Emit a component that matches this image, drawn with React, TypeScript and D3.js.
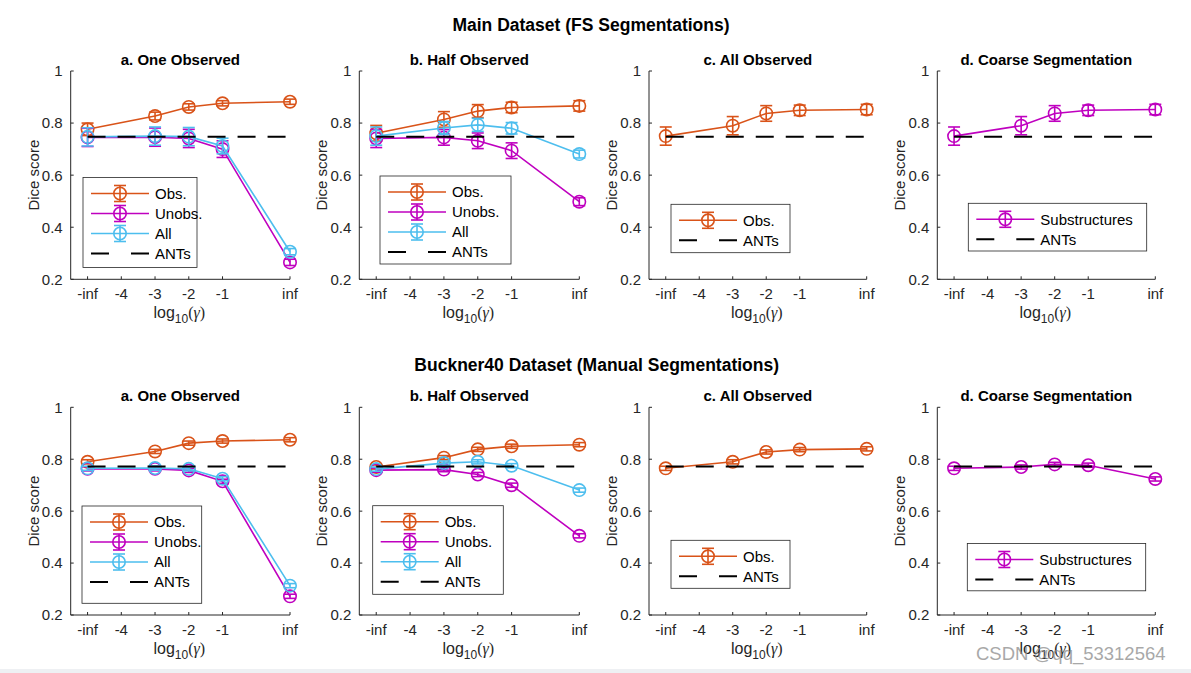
import React from "react";
import * as d3 from "d3";

// ---------- shared axes ----------
const xPositions = [-5, -3, -2, -1, 1];
const xTickValues = [-5, -4, -3, -2, -1, 1];
const xTickLabels = ["-inf", "-4", "-3", "-2", "-1", "inf"];
const yTickValues = [0.2, 0.4, 0.6, 0.8, 1];
const yTickLabels = ["0.2", "0.4", "0.6", "0.8", "1"];

const rowTitles = ["Main Dataset (FS Segmentations)", "Buckner40 Dataset (Manual Segmentations)"];
const panelTitles = ["a. One Observed", "b. Half Observed", "c. All Observed", "d. Coarse Segmentation"];

// ---------- Main dataset (FS segmentations) ----------
const mainOneObs = [0.776, 0.827, 0.862, 0.876, 0.882];
const mainOneObsErr = [0.024, 0.015, 0.012, 0.01, 0.01];
const mainOneUnobs = [0.745, 0.746, 0.741, 0.700, 0.265];
const mainOneUnobsErr = [0.035, 0.035, 0.035, 0.032, 0.012];
const mainOneAll = [0.747, 0.750, 0.748, 0.712, 0.306];
const mainOneAllErr = [0.035, 0.035, 0.035, 0.03, 0.012];

const mainHalfObs = [0.761, 0.814, 0.846, 0.860, 0.866];
const mainHalfObsErr = [0.03, 0.03, 0.025, 0.02, 0.02];
const mainHalfUnobs = [0.741, 0.745, 0.732, 0.694, 0.498];
const mainHalfUnobsErr = [0.035, 0.03, 0.03, 0.03, 0.015];
const mainHalfAll = [0.750, 0.781, 0.793, 0.780, 0.681];
const mainHalfAllErr = [0.035, 0.025, 0.025, 0.022, 0.015];

const mainAllObs = [0.750, 0.790, 0.837, 0.849, 0.852];
const mainAllObsErr = [0.035, 0.035, 0.03, 0.02, 0.02];

const mainCoarseSub = [0.750, 0.790, 0.837, 0.849, 0.852];
const mainCoarseSubErr = [0.035, 0.035, 0.03, 0.02, 0.02];

const mainAnts = 0.747;

// ---------- Buckner40 dataset (manual segmentations) ----------
const bucOneObs = [0.790, 0.830, 0.862, 0.870, 0.875];
const bucOneObsErr = [0.008, 0.008, 0.008, 0.008, 0.008];
const bucOneUnobs = [0.763, 0.763, 0.757, 0.715, 0.272];
const bucOneUnobsErr = [0.008, 0.008, 0.008, 0.008, 0.008];
const bucOneAll = [0.765, 0.766, 0.763, 0.725, 0.313];
const bucOneAllErr = [0.008, 0.008, 0.008, 0.008, 0.008];

const bucHalfObs = [0.770, 0.806, 0.838, 0.850, 0.856];
const bucHalfObsErr = [0.008, 0.008, 0.008, 0.008, 0.008];
const bucHalfUnobs = [0.758, 0.760, 0.741, 0.700, 0.505];
const bucHalfUnobsErr = [0.008, 0.008, 0.008, 0.008, 0.008];
const bucHalfAll = [0.762, 0.785, 0.790, 0.775, 0.681];
const bucHalfAllErr = [0.008, 0.008, 0.008, 0.008, 0.008];

const bucAllObs = [0.765, 0.790, 0.828, 0.837, 0.840];
const bucAllObsErr = [0.008, 0.008, 0.008, 0.008, 0.008];

const bucCoarseSub = [0.765, 0.770, 0.780, 0.777, 0.724];
const bucCoarseSubErr = [0.008, 0.008, 0.008, 0.008, 0.008];

const bucAnts = 0.772;

// ---------- styles ----------
const COLORS = { obs: "#D95319", unobs: "#BF00BF", all: "#4DBEEE", ants: "#000000" };
const FONT = "'Liberation Sans', Arial, Helvetica, sans-serif";
const AXIS = "#262626";

type Series = { name: string; color: string; values: number[]; errors: number[] };
type PanelData = { series: Series[]; ants: number };

const panels: PanelData[][] = [
  [
    {
      series: [
        { name: "Obs.", color: COLORS.obs, values: mainOneObs, errors: mainOneObsErr },
        { name: "Unobs.", color: COLORS.unobs, values: mainOneUnobs, errors: mainOneUnobsErr },
        { name: "All", color: COLORS.all, values: mainOneAll, errors: mainOneAllErr },
      ],
      ants: mainAnts,
    },
    {
      series: [
        { name: "Obs.", color: COLORS.obs, values: mainHalfObs, errors: mainHalfObsErr },
        { name: "Unobs.", color: COLORS.unobs, values: mainHalfUnobs, errors: mainHalfUnobsErr },
        { name: "All", color: COLORS.all, values: mainHalfAll, errors: mainHalfAllErr },
      ],
      ants: mainAnts,
    },
    {
      series: [{ name: "Obs.", color: COLORS.obs, values: mainAllObs, errors: mainAllObsErr }],
      ants: mainAnts,
    },
    {
      series: [{ name: "Substructures", color: COLORS.unobs, values: mainCoarseSub, errors: mainCoarseSubErr }],
      ants: mainAnts,
    },
  ],
  [
    {
      series: [
        { name: "Obs.", color: COLORS.obs, values: bucOneObs, errors: bucOneObsErr },
        { name: "Unobs.", color: COLORS.unobs, values: bucOneUnobs, errors: bucOneUnobsErr },
        { name: "All", color: COLORS.all, values: bucOneAll, errors: bucOneAllErr },
      ],
      ants: bucAnts,
    },
    {
      series: [
        { name: "Obs.", color: COLORS.obs, values: bucHalfObs, errors: bucHalfObsErr },
        { name: "Unobs.", color: COLORS.unobs, values: bucHalfUnobs, errors: bucHalfUnobsErr },
        { name: "All", color: COLORS.all, values: bucHalfAll, errors: bucHalfAllErr },
      ],
      ants: bucAnts,
    },
    {
      series: [{ name: "Obs.", color: COLORS.obs, values: bucAllObs, errors: bucAllObsErr }],
      ants: bucAnts,
    },
    {
      series: [{ name: "Substructures", color: COLORS.unobs, values: bucCoarseSub, errors: bucCoarseSubErr }],
      ants: bucAnts,
    },
  ],
];

// ---------- layout ----------
const colLayout = [
  { left: 70.7, right: 290 },
  { left: 359.3, right: 579.3 },
  { left: 649, right: 866.7 },
  { left: 937.3, right: 1155.3 },
];
const rowLayout = [
  { top: 71, bottom: 279.3, titleX: 591, titleY: 30.5, panelTitleY: 65 },
  { top: 407.3, bottom: 615, titleX: 596.7, titleY: 371, panelTitleY: 401 },
];
const legendLayout = [
  [
    { x: 83, y: 177.5, w: 114, h: 90 },
    { x: 380, y: 176, w: 131, h: 88 },
    { x: 671, y: 204.3, w: 119, h: 48.4 },
    { x: 968.3, y: 203.3, w: 178.4, h: 47.7 },
  ],
  [
    { x: 82, y: 506, w: 119.7, h: 97.3 },
    { x: 372.7, y: 505.7, w: 130.6, h: 88.6 },
    { x: 671, y: 540.3, w: 119, h: 48 },
    { x: 967.3, y: 543.5, w: 178.4, h: 47.3 },
  ],
];

const MARKER_R = 6.2;
const CAP = 6;
const LW = 1.6;

function ErrorMark({ cx, cy, y0, y1, color }: { cx: number; cy: number; y0: number; y1: number; color: string }) {
  return (
    <g stroke={color} strokeWidth={LW} fill="none">
      <line x1={cx} x2={cx} y1={y0} y2={y1} />
      <line x1={cx - CAP} x2={cx + CAP} y1={y0} y2={y0} />
      <line x1={cx - CAP} x2={cx + CAP} y1={y1} y2={y1} />
      <circle cx={cx} cy={cy} r={MARKER_R} />
    </g>
  );
}

function Panel({ row, col }: { row: number; col: number }) {
  const data = panels[row][col];
  const { left, right } = colLayout[col];
  const { top, bottom, panelTitleY } = rowLayout[row];
  const lg = legendLayout[row][col];

  const x = d3.scaleLinear().domain([-5.5, 1]).range([left, right]);
  const y = d3.scaleLinear().domain([0.2, 1]).range([bottom, top]);
  const line = d3
    .line<number>()
    .x((_, i) => x(xPositions[i]))
    .y((d) => y(d));

  const cx = (left + right) / 2;
  const cy = (top + bottom) / 2;

  const legendItems = [
    ...data.series.map((s) => ({ name: s.name, color: s.color, dashed: false })),
    { name: "ANTs", color: COLORS.ants, dashed: true },
  ];

  return (
    <g>
      {/* panel title */}
      <text x={cx} y={panelTitleY} textAnchor="middle" fontFamily={FONT} fontWeight="bold" fontSize={15} fill="#000">
        {panelTitles[col]}
      </text>

      {/* axes */}
      <line x1={left} x2={left} y1={top} y2={bottom} stroke={AXIS} strokeWidth={1} />
      <line x1={left} x2={right} y1={bottom} y2={bottom} stroke={AXIS} strokeWidth={1} />
      {yTickValues.map((v, i) => (
        <g key={"y" + i}>
          <line x1={left} x2={left + 3} y1={y(v)} y2={y(v)} stroke={AXIS} strokeWidth={1} />
          <text
            x={left - 8}
            y={y(v)}
            dy="0.36em"
            textAnchor="end"
            fontFamily={FONT}
            fontSize={15}
            fill={AXIS}
          >
            {yTickLabels[i]}
          </text>
        </g>
      ))}
      {xTickValues.map((v, i) => (
        <g key={"x" + i}>
          <line x1={x(v)} x2={x(v)} y1={bottom} y2={bottom - 3} stroke={AXIS} strokeWidth={1} />
          <text x={x(v)} y={bottom + 20} textAnchor="middle" fontFamily={FONT} fontSize={15} fill={AXIS}>
            {xTickLabels[i]}
          </text>
        </g>
      ))}

      {/* y label */}
      <text
        transform={`translate(${left - 32},${cy}) rotate(-90)`}
        textAnchor="middle"
        fontFamily={FONT}
        fontSize={15}
        fill={AXIS}
      >
        Dice score
      </text>
      {/* x label */}
      <text x={cx - 1} y={bottom + 39} textAnchor="middle" fontFamily={FONT} fontSize={16} fill={AXIS}>
        log
        <tspan fontSize={12} dy={5}>
          10
        </tspan>
        <tspan dy={-5} fontFamily="'Liberation Serif', serif">
          (<tspan fontStyle="italic">γ</tspan>)
        </tspan>
      </text>

      {/* series */}
      {data.series.map((s, si) => (
        <g key={"s" + si}>
          <path d={line(s.values) || ""} fill="none" stroke={s.color} strokeWidth={LW} />
          {s.values.map((v, i) => (
            <ErrorMark
              key={i}
              cx={x(xPositions[i])}
              cy={y(v)}
              y0={y(v - s.errors[i])}
              y1={y(v + s.errors[i])}
              color={s.color}
            />
          ))}
        </g>
      ))}

      {/* ANTs baseline */}
      <line
        x1={x(xPositions[0])}
        x2={x(xPositions[xPositions.length - 1])}
        y1={y(data.ants)}
        y2={y(data.ants)}
        stroke={COLORS.ants}
        strokeWidth={2}
        strokeDasharray="18 12"
      />

      {/* legend */}
      <rect x={lg.x} y={lg.y} width={lg.w} height={lg.h} fill="#fff" stroke={AXIS} strokeWidth={0.8} />
      {legendItems.map((it, i) => {
        const ry = lg.y + 16 + i * 20;
        const x0 = lg.x + 8;
        const x1 = lg.x + 66;
        const mx = (x0 + x1) / 2;
        return (
          <g key={"l" + i}>
            {it.dashed ? (
              <line x1={x0} x2={x1} y1={ry} y2={ry} stroke={it.color} strokeWidth={2} strokeDasharray="18 22" />
            ) : (
              <g>
                <line x1={x0} x2={x1} y1={ry} y2={ry} stroke={it.color} strokeWidth={LW} />
                <ErrorMark cx={mx} cy={ry} y0={ry - 8} y1={ry + 8} color={it.color} />
              </g>
            )}
            <text x={lg.x + 72} y={ry} dy="0.36em" fontFamily={FONT} fontSize={15} fill="#000">
              {it.name}
            </text>
          </g>
        );
      })}
    </g>
  );
}

export default function App() {
  const W = 1191;
  const H = 673;
  return (
    <svg
      width={W}
      height={H}
      viewBox={`0 0 ${W} ${H}`}
      style={{ position: "absolute", left: 0, top: 0, background: "#fff" }}
    >
      <rect x={0} y={0} width={W} height={H} fill="#fff" />
      {rowTitles.map((t, r) => (
        <text
          key={t}
          x={rowLayout[r].titleX}
          y={rowLayout[r].titleY}
          textAnchor="middle"
          fontFamily={FONT}
          fontWeight="bold"
          fontSize={17.5}
          fill="#000"
        >
          {t}
        </text>
      ))}
      {[0, 1].map((r) => [0, 1, 2, 3].map((c) => <Panel key={`${r}-${c}`} row={r} col={c} />))}
      <text x={976} y={660} fontFamily={FONT} fontSize={18.5} fill="#8c8c8c" opacity={0.75}>
        CSDN @qq_53312564
      </text>
      <rect x={0} y={669} width={W} height={4} fill="#eef0f3" />
    </svg>
  );
}
